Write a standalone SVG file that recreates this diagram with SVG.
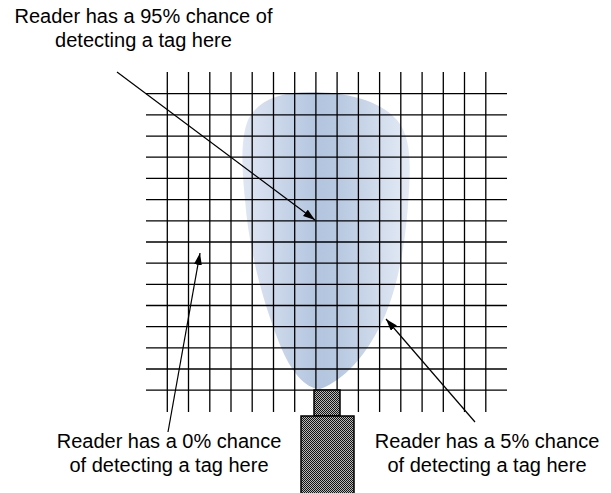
<svg xmlns="http://www.w3.org/2000/svg" width="611" height="493" viewBox="0 0 611 493">
<style>
.lbl{font-family:"Liberation Sans",Arial,sans-serif;font-size:20px;fill:#000;text-anchor:middle}
.grid line{stroke:#000;stroke-width:1.3}
.conn{stroke:#000;stroke-width:1.2;fill:none;marker-end:url(#ah)}
.dev{fill:url(#dither);stroke:#000;stroke-width:1.5}
</style>
<defs>
<linearGradient id="beam" gradientUnits="userSpaceOnUse" x1="240" y1="0" x2="412" y2="0">
<stop offset="0" stop-color="#e2e8f4"/>
<stop offset="0.45" stop-color="#b3c5df"/>
<stop offset="0.58" stop-color="#b8c9e1"/>
<stop offset="1" stop-color="#e6ecf6"/>
</linearGradient>
<pattern id="dither" patternUnits="userSpaceOnUse" width="2" height="2">
<rect width="2" height="2" fill="#b8b8b8"/>
<rect width="1" height="1" fill="#111"/>
<rect x="1" y="1" width="1" height="1" fill="#111"/>
</pattern>
<marker id="ah" markerUnits="userSpaceOnUse" markerWidth="14" markerHeight="10" refX="12" refY="4" orient="auto">
<path d="M0,0 L12,4 L0,8 Z" fill="#000"/>
</marker>
</defs>
<g id="beam-zone">
<path d="M 310 92 C 345 92, 380 100, 397 120 C 410 135, 411 160, 409 190 C 406 250, 395 300, 378 330 C 365 355, 345 380, 320 389 C 305 389, 290 370, 280 345 C 262 300, 249 250, 245 200 C 242 170, 240 140, 248 120 C 258 100, 280 92, 310 92 Z" fill="url(#beam)"/>
</g>
<g id="grid" class="grid">
<line x1="167.3" y1="72" x2="167.3" y2="412"/>
<line x1="188.5" y1="72" x2="188.5" y2="412"/>
<line x1="209.8" y1="72" x2="209.8" y2="412"/>
<line x1="231.0" y1="72" x2="231.0" y2="412"/>
<line x1="252.2" y1="72" x2="252.2" y2="412"/>
<line x1="273.5" y1="72" x2="273.5" y2="412"/>
<line x1="294.7" y1="72" x2="294.7" y2="412"/>
<line x1="315.9" y1="72" x2="315.9" y2="412"/>
<line x1="337.1" y1="72" x2="337.1" y2="412"/>
<line x1="358.4" y1="72" x2="358.4" y2="412"/>
<line x1="379.6" y1="72" x2="379.6" y2="412"/>
<line x1="400.8" y1="72" x2="400.8" y2="412"/>
<line x1="422.1" y1="72" x2="422.1" y2="412"/>
<line x1="443.3" y1="72" x2="443.3" y2="412"/>
<line x1="464.5" y1="72" x2="464.5" y2="412"/>
<line x1="485.8" y1="72" x2="485.8" y2="412"/>
<line x1="146" y1="93.7" x2="507" y2="93.7"/>
<line x1="146" y1="114.9" x2="507" y2="114.9"/>
<line x1="146" y1="136.1" x2="507" y2="136.1"/>
<line x1="146" y1="157.2" x2="507" y2="157.2"/>
<line x1="146" y1="178.4" x2="507" y2="178.4"/>
<line x1="146" y1="199.6" x2="507" y2="199.6"/>
<line x1="146" y1="220.8" x2="507" y2="220.8"/>
<line x1="146" y1="242.0" x2="507" y2="242.0"/>
<line x1="146" y1="263.1" x2="507" y2="263.1"/>
<line x1="146" y1="284.3" x2="507" y2="284.3"/>
<line x1="146" y1="305.5" x2="507" y2="305.5"/>
<line x1="146" y1="326.7" x2="507" y2="326.7"/>
<line x1="146" y1="347.9" x2="507" y2="347.9"/>
<line x1="146" y1="369.0" x2="507" y2="369.0"/>
<line x1="146" y1="390.2" x2="507" y2="390.2"/>
</g>
<g id="reader">
<rect class="dev" x="314" y="390" width="26" height="26"/>
<rect class="dev" x="301" y="416" width="53" height="80"/>
</g>
<g id="connectors">
<line class="conn" x1="117" y1="72" x2="315" y2="220"/>
<line class="conn" x1="168" y1="432" x2="200" y2="253"/>
<line class="conn" x1="475" y1="422" x2="386" y2="319"/>
</g>
<g id="label-95">
<text class="lbl" x="143.5" y="22.7">Reader has a 95% chance of</text>
<text class="lbl" x="143.5" y="46.7">detecting a tag here</text>
</g>
<g id="label-0">
<text class="lbl" x="169" y="448.3">Reader has a 0% chance</text>
<text class="lbl" x="169" y="472.3">of detecting a tag here</text>
</g>
<g id="label-5">
<text class="lbl" x="487" y="448.3">Reader has a 5% chance</text>
<text class="lbl" x="487" y="472.3">of detecting a tag here</text>
</g>
</svg>
